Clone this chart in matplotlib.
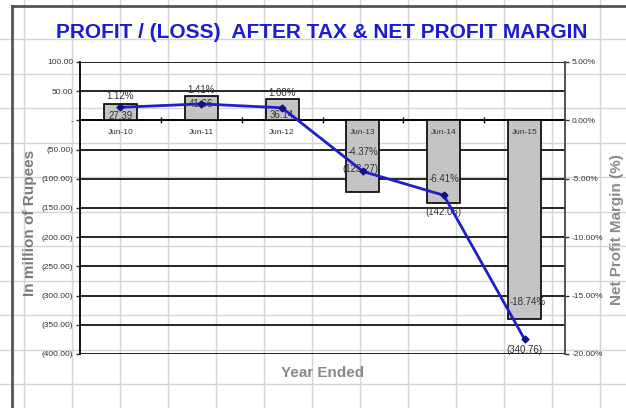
"""
Profit / (loss) after tax with net profit margin, Excel-style combo chart.
"""

import numpy as np
import matplotlib.pyplot as plt
from matplotlib.lines import Line2D
from matplotlib.ticker import FixedLocator

plt.rcParams['font.family'] = ['Liberation Sans', 'DejaVu Sans']

# data
years = ['Jun-10', 'Jun-11', 'Jun-12', 'Jun-13', 'Jun-14', 'Jun-15']
profit = [27.39, 41.66, 36.14, -123.27, -142.06, -340.76]   # in million of rupees
margin = [1.12, 1.41, 1.08, -4.37, -6.41, -18.74]           # net profit margin, %

# label offsets in points (x, y) relative to the bar end / line point
profit_offsets = [(0, -8), (0, -6), (0, -11), (-2, 17), (0, -6), (0, -22)]
margin_offsets = [(0, 8), (0, 10), (0, 11), (0, 14), (0, 12), (2, 27)]

W, H = 626, 408
fig = plt.figure(figsize=(W / 100, H / 100), dpi=100)
fig.patch.set_facecolor('white')

# spreadsheet cell grid behind the chart
for x in np.arange(24, W, 48):
    fig.add_artist(Line2D([x / W, x / W], [0, 1], color='#d4d4d4', lw=1, zorder=0))
for y in np.arange(39, H, 34.5):
    fig.add_artist(Line2D([0, 1], [1 - y / H, 1 - y / H], color='#d4d4d4', lw=1, zorder=0))

# chart object border
fig.add_artist(Line2D([12 / W, 12 / W], [0, 1 - 6 / H], color='#555555', lw=2, zorder=1))
fig.add_artist(Line2D([12 / W, 1], [1 - 6 / H, 1 - 6 / H], color='#555555', lw=2, zorder=1))

ax = fig.add_axes([80 / W, 1 - 354 / H, (565 - 80) / W, (354 - 62) / H])
ax.set_facecolor('none')
x = np.arange(len(years))

ax.bar(x, profit, width=0.41, color='#c4c4c4', edgecolor='black', linewidth=1.2, zorder=3)
ax.set_xlim(-0.5, len(years) - 0.5)
ax.set_ylim(-400, 100)
ax.set_yticks(np.arange(-400, 101, 50))


def rupee_fmt(v):
    if v == 0:
        return '-'
    if v < 0:
        return '({:.2f})'.format(-v)
    return '{:.2f}'.format(v)


ax.set_yticklabels([rupee_fmt(v) for v in np.arange(-400, 101, 50)])
ax.grid(axis='y', color='black', lw=1.2, zorder=1)
ax.tick_params(axis='y', labelsize=6, colors='#333333', length=3, width=1, pad=2)

# category axis crosses at zero; labels drawn as text so they sit over the bars
ax.spines['bottom'].set_position(('data', 0))
ax.spines['bottom'].set_linewidth(1.3)
ax.spines['top'].set_visible(False)
ax.spines['right'].set_visible(False)
ax.spines['left'].set_linewidth(1.3)
ax.set_xticks(x)
ax.set_xticklabels([])
ax.xaxis.set_minor_locator(FixedLocator(x[:-1] + 0.5))
ax.tick_params(axis='x', which='major', length=0)
ax.tick_params(axis='x', which='minor', length=4, width=1, direction='inout')
for i, name in enumerate(years):
    ax.annotate(name, (i, 0), xytext=(0, -9), textcoords='offset points',
                ha='center', va='center', fontsize=6, color='#333333', zorder=7)

for i, (v, off) in enumerate(zip(profit, profit_offsets)):
    ax.annotate(rupee_fmt(v), (i, v), xytext=off, textcoords='offset points',
                ha='center', va='center', fontsize=7, color='#333333', zorder=6)

ax2 = ax.twinx()
ax2.set_ylim(-20, 5)
ax2.set_yticks(np.arange(-20, 6, 5))
ax2.set_yticklabels(['{:.2f}%'.format(v) for v in np.arange(-20, 6, 5)])
ax2.tick_params(axis='y', labelsize=6, colors='#333333', length=3, width=1, pad=2)
for s in ['top', 'bottom', 'left']:
    ax2.spines[s].set_visible(False)
ax2.spines['right'].set_color('#444444')
ax2.spines['right'].set_linewidth(1.3)
ax2.plot(x, margin, color='#1f1fc8', lw=2, marker='D', markersize=3.5,
         markerfacecolor='#10108a', markeredgecolor='#10108a', zorder=5)
for i, (v, off) in enumerate(zip(margin, margin_offsets)):
    ax2.annotate('{:.2f}%'.format(v), (i, v), xytext=off, textcoords='offset points',
                 ha='center', va='center', fontsize=7, color='#333333', zorder=6)

fig.text(322 / W, 1 - 33 / H, 'PROFIT / (LOSS)  AFTER TAX & NET PROFIT MARGIN',
         ha='center', va='center', fontsize=15, fontweight='bold', color='#1c1cd0')
fig.text(30 / W, 1 - 223 / H, 'In million of Rupees', rotation=90, ha='center',
         va='center', fontsize=11, fontweight='bold', color='#7a7a7a')
fig.text(617 / W, 1 - 230 / H, 'Net Profit Margin (%)', rotation=90, ha='center',
         va='center', fontsize=11, fontweight='bold', color='#8a8a8a')
fig.text(323 / W, 1 - 373 / H, 'Year Ended', ha='center', va='center',
         fontsize=11, fontweight='bold', color='#8a8a8a')

plt.savefig('out.png', dpi=100)
